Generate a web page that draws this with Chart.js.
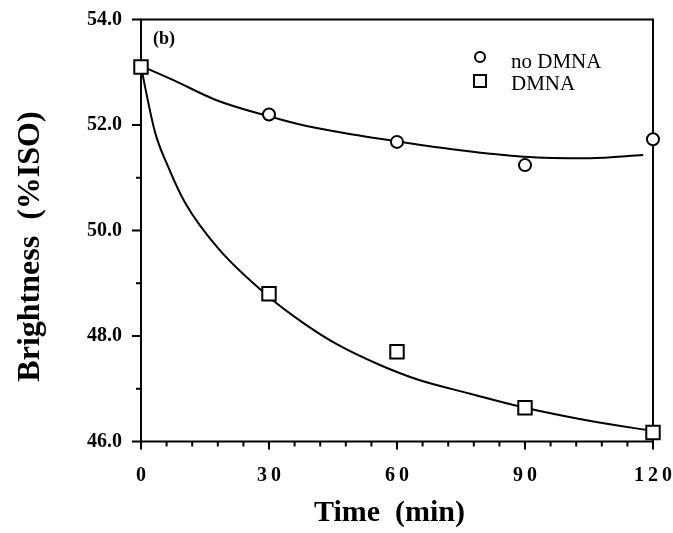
<!DOCTYPE html>
<html>
<head>
<meta charset="utf-8">
<script src="https://cdn.jsdelivr.net/npm/chart.js@4/dist/chart.umd.min.js"></script>
<style>
  html, body { margin: 0; padding: 0; background: #fff; }
  #wrap { width: 673px; height: 533px; }
</style>
</head>
<body>
<div id="wrap"><canvas id="chBright"></canvas></div>
<script>
// measured points
const times = [0, 30, 60, 90, 120];
const noDmna = [53.1, 52.2, 51.68, 51.24, 51.73];
const dmna = [53.1, 48.8, 47.7, 46.64, 46.17];

// fitted curves
const noDmnaFitT = [0, 7.6, 17.7, 30.2, 38.8, 50.5, 60, 74, 89.6, 105.2, 117.7];
const noDmnaFitV = [53.12, 52.85, 52.47, 52.16, 51.98, 51.81, 51.69, 51.53, 51.4, 51.37, 51.43];
const dmnaFitT = [0, 3.3, 6.4, 10.3, 18.1, 30, 38, 46, 56, 65, 77, 89, 106, 120];
const dmnaFitV = [53.1, 51.86, 51.2, 50.53, 49.66, 48.74, 48.25, 47.84, 47.45, 47.17, 46.91, 46.66, 46.38, 46.2];

const xTicks = [0, 30, 60, 90, 120];
const yTicks = [46, 48, 50, 52, 54];

const serif = "'Liberation Serif', 'Times New Roman', serif";

function pts(xs, ys) {
  return xs.map(function (x, i) { return { x: x, y: ys[i] }; });
}

// frame + major/minor ticks, under the marks
const frameTicks = {
  id: "frameTicks",
  beforeDatasetsDraw: function (chart) {
    const ctx = chart.ctx;
    const a = chart.chartArea;
    const xs = chart.scales.x;
    const ys = chart.scales.y;
    ctx.save();
    ctx.strokeStyle = "#000";
    ctx.lineWidth = 2;
    ctx.strokeRect(a.left, a.top, a.right - a.left, a.bottom - a.top);
    ctx.beginPath();
    for (let v = 0; v <= 120; v += 6) {
      const px = xs.getPixelForValue(v);
      const len = v % 30 === 0 ? 8 : 5;
      ctx.moveTo(px, a.bottom);
      ctx.lineTo(px, a.bottom + len);
    }
    for (let v = 46; v <= 54; v += 1) {
      const py = ys.getPixelForValue(v);
      const len = v % 2 === 0 ? 9 : 5;
      ctx.moveTo(a.left, py);
      ctx.lineTo(a.left - len, py);
    }
    ctx.stroke();
    ctx.restore();
  },
  afterDraw: function (chart) {
    const ctx = chart.ctx;
    ctx.save();
    ctx.fillStyle = "#000";
    ctx.strokeStyle = "#000";
    ctx.lineWidth = 2;
    ctx.font = "bold 18px " + serif;
    ctx.textBaseline = "alphabetic";
    ctx.fillText("(b)", 153, 44);

    // legend
    ctx.beginPath();
    ctx.arc(480, 57, 5, 0, Math.PI * 2);
    ctx.stroke();
    ctx.strokeRect(474, 75, 12, 12);
    ctx.font = "21px " + serif;
    ctx.fillText("no DMNA", 511, 68);
    ctx.fillText("DMNA", 511, 90);
    ctx.restore();
  }
};

const config = {
  type: "line",
  data: {
    datasets: [
      {
        label: "DMNA",
        data: pts(times, dmna),
        showLine: false,
        pointStyle: "rect",
        pointRadius: 9.5,
        pointBorderWidth: 2,
        pointBorderColor: "#000",
        pointBackgroundColor: "#fff",
        clip: false
      },
      {
        label: "no DMNA",
        data: pts(times, noDmna),
        showLine: false,
        pointStyle: "circle",
        pointRadius: 6,
        pointBorderWidth: 2,
        pointBorderColor: "#000",
        pointBackgroundColor: "#fff",
        clip: false
      },
      {
        label: "DMNA fit",
        data: pts(dmnaFitT, dmnaFitV),
        borderColor: "#000",
        borderWidth: 2,
        pointRadius: 0,
        cubicInterpolationMode: "monotone",
        fill: false,
        clip: false
      },
      {
        label: "no DMNA fit",
        data: pts(noDmnaFitT, noDmnaFitV),
        borderColor: "#000",
        borderWidth: 2,
        pointRadius: 0,
        cubicInterpolationMode: "monotone",
        fill: false,
        clip: false
      }
    ]
  },
  options: {
    responsive: true,
    maintainAspectRatio: false,
    animation: false,
    layout: { padding: { left: 0, top: 19.5, right: 20, bottom: 0 } },
    plugins: {
      legend: { display: false },
      tooltip: { enabled: false }
    },
    scales: {
      x: {
        type: "linear",
        min: 0,
        max: 120,
        afterBuildTicks: function (s) {
          s.ticks = xTicks.map(function (v) { return { value: v }; });
        },
        afterFit: function (s) {
          s.height = 91.5;
          s.paddingLeft = 0;
          s.paddingRight = 0;
        },
        grid: { display: false, drawTicks: false },
        border: { display: false },
        ticks: {
          padding: 22,
          color: "#000",
          font: { family: serif, size: 20, weight: "bold" },
          callback: function (v) { return String(v).split("").join("\u2009"); }
        },
        title: {
          display: true,
          text: "Time  (min)\u00a0\u00a0",
          color: "#000",
          font: { family: serif, size: 30, weight: "bold" },
          padding: { top: 0, bottom: 2 }
        }
      },
      y: {
        type: "linear",
        min: 46,
        max: 54,
        afterBuildTicks: function (s) {
          s.ticks = yTicks.map(function (v) { return { value: v }; });
        },
        afterFit: function (s) {
          s.width = 141;
          s.paddingTop = 0;
          s.paddingBottom = 0;
        },
        grid: { display: false, drawTicks: false },
        border: { display: false },
        ticks: {
          padding: 19,
          color: "#000",
          font: { family: serif, size: 20, weight: "bold" },
          callback: function (v) { return Number(v).toFixed(1); }
        },
        title: {
          display: true,
          text: "Brightness  (%ISO)\u00a0\u00a0\u00a0\u00a0",
          color: "#000",
          font: { family: serif, size: 32, weight: "bold" },
          padding: { top: 12, bottom: 0 }
        }
      }
    }
  },
  plugins: [frameTicks]
};

var myChart = new Chart(document.getElementById("chBright"), config);
</script>
</body>
</html>
